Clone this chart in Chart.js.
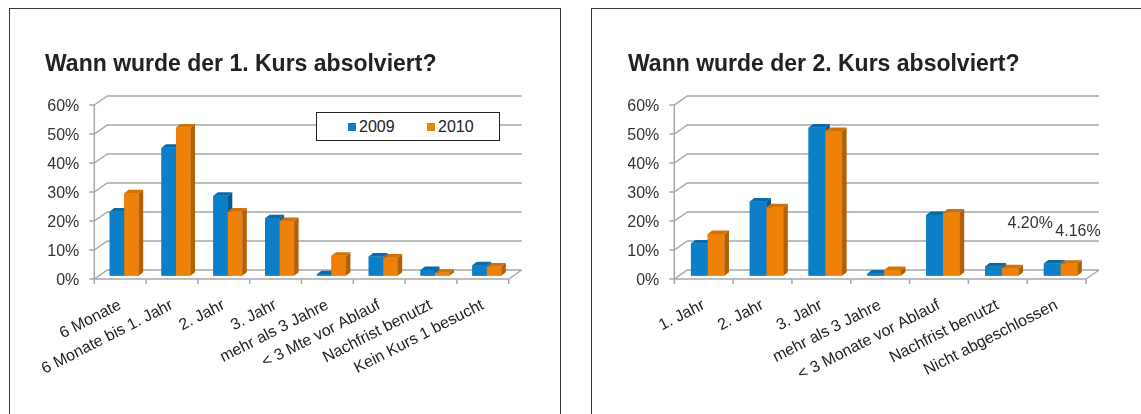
<!DOCTYPE html>
<html>
<head>
<meta charset="utf-8">
<script src="https://cdn.jsdelivr.net/npm/chart.js@4.4.1/dist/chart.umd.min.js"></script>
<style>
  html, body { margin: 0; padding: 0; background: #fff; width: 1141px; height: 414px; overflow: hidden; }
  .box { position: absolute; top: 8px; width: 550px; height: 420px; border: 1px solid #3a3a3a; background: #fff; }
  #box1 { left: 9px; }
  #box2 { left: 591px; }
  canvas { position: absolute; left: 0; top: 0; }
  .legend { position: absolute; left: 306px; top: 103px; width: 182px; height: 27px; border: 1px solid #222; background: #fff;
            font: 16px "Liberation Sans", Arial, sans-serif; color: #222; }
  .legend span { position: absolute; top: 4px; line-height: 19px; }
  .legend i { position: absolute; top: 10px; width: 8px; height: 8px; }
</style>
</head>
<body>
<div class="box" id="box1">
  <canvas id="chart1" width="550" height="405"></canvas>
  <div class="legend">
    <i style="left:31px;background:#0b7fc7"></i><span style="left:42px">2009</span>
    <i style="left:110px;background:#ee8209"></i><span style="left:121px">2010</span>
  </div>
</div>
<div class="box" id="box2">
  <canvas id="chart2" width="550" height="405"></canvas>
</div>
<script>
// Daten
const kurs1Labels = ['6 Monate', '6 Monate bis 1. Jahr', '2. Jahr', '3. Jahr', 'mehr als 3 Jahre',
                     '< 3 Mte vor Ablauf', 'Nachfrist benutzt', 'Kein Kurs 1 besucht'];
const kurs1_2009 = [22.1, 44.1, 27.6, 19.8, 0.5, 6.6, 2.0, 3.6];
const kurs1_2010 = [28.4, 51.1, 22.1, 18.9, 6.9, 6.3, 1.0, 3.2];

const kurs2Labels = ['1. Jahr', '2. Jahr', '3. Jahr', 'mehr als 3 Jahre', '< 3 Monate vor Ablauf',
                     'Nachfrist benutzt', 'Nicht abgeschlossen'];
const kurs2_2009 = [11.1, 25.6, 51.1, 0.8, 20.9, 3.2, 4.20];
const kurs2_2010 = [14.4, 23.6, 49.9, 2.0, 21.8, 2.6, 4.16];

const seriesNames = ['2009', '2010'];
const yTicks = [0, 10, 20, 30, 40, 50, 60];

const FONT = '"Liberation Sans", Arial, Helvetica, sans-serif';
Chart.defaults.font.family = FONT;

// 3D-Versatz (Pixel) relativ zur Ebene der Balkenvorderseiten
const FRONT = { x: -4, y: 3.3 };
const BACK = { x: 9, y: -5.7 };
const DEPTH = { x: 4.5, y: -3.5 };

const walls3d = {
  id: 'walls3d',
  beforeDatasetsDraw(chart) {
    const { ctx, chartArea: a, scales: { x, y } } = chart;
    const y0 = y.getPixelForValue(0);
    const yTop = y.getPixelForValue(y.max);
    ctx.save();
    ctx.strokeStyle = '#a8a8a8';
    ctx.lineWidth = 1.5;
    ctx.beginPath();
    y.ticks.forEach(t => {
      const py = y.getPixelForValue(t.value);
      ctx.moveTo(a.left + FRONT.x - 5, py + FRONT.y);
      ctx.lineTo(a.left + FRONT.x, py + FRONT.y);
      ctx.lineTo(a.left + BACK.x, py + BACK.y);
      ctx.lineTo(a.right + BACK.x, py + BACK.y);
    });
    // vordere Achse + Boden
    ctx.moveTo(a.left + FRONT.x, yTop + FRONT.y);
    ctx.lineTo(a.left + FRONT.x, y0 + FRONT.y);
    ctx.lineTo(a.right + FRONT.x, y0 + FRONT.y);
    ctx.lineTo(a.right + BACK.x, y0 + BACK.y);
    const n = chart.data.labels.length;
    const step = (a.right - a.left) / n;
    for (let i = 0; i <= n; i++) {
      const px = x.getPixelForTick(0) + (i - 0.5) * step + FRONT.x;
      ctx.moveTo(px, y0 + FRONT.y);
      ctx.lineTo(px, y0 + FRONT.y + 5);
    }
    ctx.stroke();
    ctx.restore();
  },
  afterDatasetsDraw(chart) {
    const { ctx } = chart;
    const metas = chart.getSortedVisibleDatasetMetas();
    const n = chart.data.labels.length;
    ctx.save();
    for (let i = 0; i < n; i++) {
      metas.forEach(meta => {
        const ds = chart.data.datasets[meta.index];
        const { x, y, base, width } = meta.data[i].getProps(['x', 'y', 'base', 'width'], true);
        const l = x - width / 2, r = x + width / 2;
        ctx.fillStyle = ds.backgroundColor;
        ctx.fillRect(l, y, width, base - y);
        ctx.fillStyle = ds.sideColor;
        ctx.beginPath();
        ctx.moveTo(r, y); ctx.lineTo(r + DEPTH.x, y + DEPTH.y);
        ctx.lineTo(r + DEPTH.x, base + DEPTH.y); ctx.lineTo(r, base);
        ctx.closePath(); ctx.fill();
        ctx.fillStyle = ds.topColor;
        ctx.beginPath();
        ctx.moveTo(l, y); ctx.lineTo(l + DEPTH.x, y + DEPTH.y);
        ctx.lineTo(r + DEPTH.x, y + DEPTH.y); ctx.lineTo(r, y);
        ctx.closePath(); ctx.fill();
      });
    }
    ctx.restore();
  }
};

// Datenbeschriftung der letzten Kategorie (nur Diagramm 2)
const valueLabels = {
  id: 'valueLabels',
  afterDraw(chart, args, opts) {
    if (!opts.index && opts.index !== 0) return;
    const { ctx } = chart;
    const offs = [{ x: -22, y: -40 }, { x: 9, y: -32 }];
    ctx.save();
    ctx.font = '16px ' + FONT;
    ctx.fillStyle = '#333';
    ctx.textAlign = 'center';
    ctx.textBaseline = 'middle';
    chart.getSortedVisibleDatasetMetas().forEach((meta, d) => {
      const el = meta.data[opts.index];
      const v = chart.data.datasets[meta.index].data[opts.index];
      ctx.fillText(v.toFixed(2) + '%', el.x + offs[d].x, el.y + offs[d].y);
    });
    ctx.restore();
  }
};

function makeChart(id, title, labels, d2009, d2010, lay) {
  const ctx = document.getElementById(id).getContext('2d');
  return new Chart(ctx, {
    type: 'bar',
    data: {
      labels: labels,
      datasets: [
        { label: seriesNames[0], data: d2009, backgroundColor: '#0b7fc7', sideColor: '#075b93', topColor: '#086aa9',
          borderWidth: 0, barPercentage: 1, categoryPercentage: lay.cat },
        { label: seriesNames[1], data: d2010, backgroundColor: '#ee8209', sideColor: '#b35f05', topColor: '#d07208',
          borderWidth: 0, barPercentage: 1, categoryPercentage: lay.cat }
      ]
    },
    options: {
      responsive: false,
      animation: false,
      devicePixelRatio: 1,
      layout: { padding: { left: lay.padLeft, right: lay.padRight, top: 0, bottom: 0 } },
      plugins: {
        legend: { display: false },
        tooltip: { enabled: false },
        title: {
          display: true, text: title, align: 'start', color: '#222',
          font: { size: 23, weight: 'bold' },
          padding: { top: 42, bottom: 23.1 }
        },
        valueLabels: { index: lay.labelIndex }
      },
      scales: {
        x: {
          grid: { display: false, drawTicks: false },
          border: { display: false },
          ticks: { color: '#222', font: { size: 16 }, minRotation: 27, maxRotation: 27,
                   padding: 20, labelOffset: -4, autoSkip: false },
          afterFit: s => { s.height = 405 - 266.7; }
        },
        y: {
          min: 0, max: 60,
          afterBuildTicks: s => { s.ticks = yTicks.map(v => ({ value: v })); },
          grid: { display: false, drawTicks: false },
          border: { display: false },
          ticks: { color: '#333', font: { size: 16 }, padding: 19, labelOffset: 5,
                   callback: v => v + '%' },
          afterFit: s => { s.width = lay.yWidth; }
        }
      }
    },
    plugins: [walls3d, valueLabels]
  });
}

makeChart('chart1', 'Wann wurde der 1. Kurs absolviert?', kurs1Labels, kurs1_2009, kurs1_2010,
  { padLeft: 35, yWidth: 53.3, padRight: 47.3, cat: 0.56, labelIndex: null });
makeChart('chart2', 'Wann wurde der 2. Kurs absolviert?', kurs2Labels, kurs2_2009, kurs2_2010,
  { padLeft: 36, yWidth: 50.3, padRight: 52, cat: 0.57, labelIndex: 6 });
</script>
</body>
</html>
